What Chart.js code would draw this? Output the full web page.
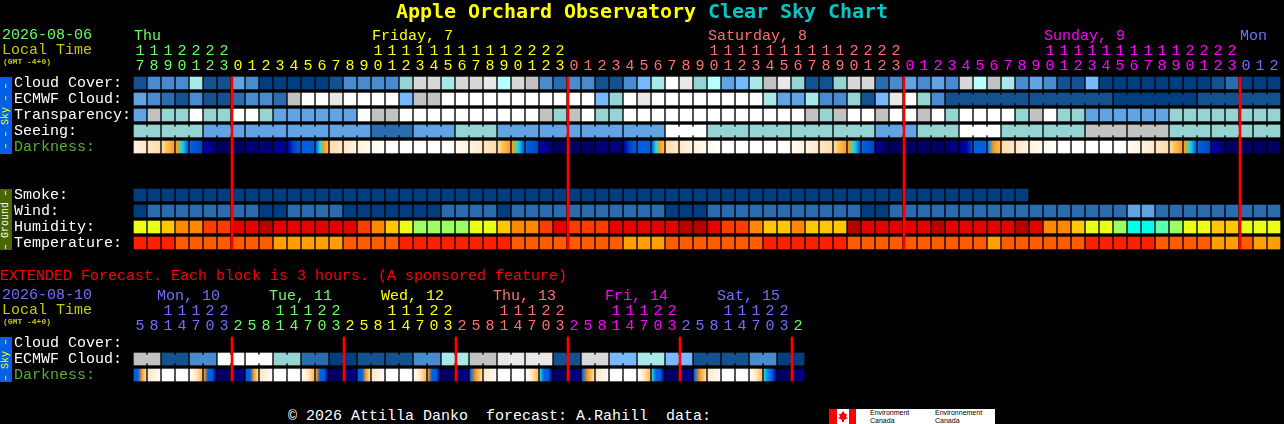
<!DOCTYPE html>
<html>
<head>
<meta charset="utf-8">
<title>Apple Orchard Observatory Clear Sky Chart</title>
<script src="https://cdn.jsdelivr.net/npm/chart.js@4"></script>
<style>
  html, body { margin: 0; padding: 0; background: #000; overflow: hidden; }
  #page { position: relative; width: 1284px; height: 424px; background: #000; }
  #page canvas { position: absolute; left: 0; }
  .txt { position: absolute; white-space: pre; font: 15px/16px "Liberation Mono", monospace; }
  .tiny { font-size: 8px; line-height: 8px; font-weight: bold; color: #c8c800; }
  .side { position: absolute; left: 0; width: 12px; writing-mode: vertical-rl; transform: rotate(180deg);
          text-align: center; font: 10px/12px "Liberation Mono", monospace; white-space: pre; }
  #title { left: 396px; top: -1px; font: bold 20px/24px "DejaVu Sans Mono", monospace; letter-spacing: -0.04px; color: #ffff00; }
  #title span { color: #00c8c8; }
  #logo { position: absolute; left: 829px; top: 409px; width: 166px; height: 15px; background: #fff; overflow: hidden; }
  #logo div { position: absolute; color: #000; font: 7px/7px "Liberation Sans", sans-serif; white-space: pre; }
</style>
</head>
<body>
<div id="page">
  <canvas id="mainChart" width="1284" height="251" style="top:0"></canvas>
  <canvas id="extChart" width="1284" height="99" style="top:284px"></canvas>

  <div class="txt" id="title">Apple Orchard Observatory <span>Clear Sky Chart</span></div>
  <div class="txt" style="left:2px;top:28px;color:#66ff66">2026-08-06</div>
  <div class="txt" style="left:2px;top:43px;color:#c8c800">Local Time</div>
  <div class="txt tiny" style="left:3px;top:58px">(GMT -4+0)</div>

  <div class="side" style="top:77px;height:77px;background:#0060e8;color:#ffff00">– – Sky – –</div>
  <div class="side" style="top:189px;height:61px;background:#4b6500;color:#fff">– Ground –</div>
  <div class="side" style="top:337px;height:45px;background:#0060e8;color:#ffff00">– Sky –</div>

  <div class="txt" style="left:0;top:269px;color:#ff0000">EXTENDED Forecast. Each block is 3 hours. (A sponsored feature)</div>
  <div class="txt" style="left:2px;top:288px;color:#7070ff">2026-08-10</div>
  <div class="txt" style="left:2px;top:303px;color:#c8c800">Local Time</div>
  <div class="txt tiny" style="left:3px;top:318px">(GMT -4+0)</div>

  <div class="txt" style="left:288px;top:409px;color:#fff">© 2026 Attilla Danko  forecast: A.Rahill  data:</div>
  <div id="logo">
    <svg width="27" height="15" style="position:absolute;left:0;top:0">
      <rect x="0" y="0" width="8" height="15" fill="#ff0000"></rect>
      <rect x="20" y="0" width="7" height="15" fill="#ff0000"></rect>
      <polygon points="14,2 16,5 18,5 17,8 19,9 15,11 15,13 13,13 13,11 9,9 11,8 10,5 12,5" fill="#ff0000"></polygon>
    </svg>
    <div style="left:41px;top:0">Environment</div>
    <div style="left:41px;top:8px">Canada</div>
    <div style="left:106px;top:0">Environnement</div>
    <div style="left:106px;top:8px">Canada</div>
  </div>
</div>

<script>
// hours along the top, one column per hour
const hours = [17, 18, 19, 20, 21, 22, 23,
  0, 1, 2, 3, 4, 5, 6, 7, 8, 9, 10, 11, 12, 13, 14, 15, 16, 17, 18, 19, 20, 21, 22, 23,
  0, 1, 2, 3, 4, 5, 6, 7, 8, 9, 10, 11, 12, 13, 14, 15, 16, 17, 18, 19, 20, 21, 22, 23,
  0, 1, 2, 3, 4, 5, 6, 7, 8, 9, 10, 11, 12, 13, 14, 15, 16, 17, 18, 19, 20, 21, 22, 23,
  0, 1, 2];

// levels, looked up in skyScale
const cloudCover = [1, 3, 3, 3, 7, 1, 1,
  4, 3, 0, 0, 0, 0, 0, 1, 3, 3, 3, 3, 6, 10, 10, 7, 10, 10, 11, 8, 10, 9, 3, 2,
  3, 3, 1, 1, 3, 5, 7, 12, 11, 6, 8, 4, 5, 7, 9, 11, 6, 1, 1, 6, 10, 10, 2, 3,
  4, 3, 4, 3, 10, 8, 9, 7, 3, 4, 3, 1, 1, 5, 0, 0, 0, 0, 0, 0, 0, 0, 1, 2,
  0, 0, 0];
const ecmwfCloud = [4, 3, 2, 1, 3, 1, 1,
  2, 3, 3, 2, 9, 12, 12, 11, 12, 12, 12, 12, 5, 9, 9, 12, 12, 12, 12, 12, 12, 12, 12, 12,
  12, 12, 5, 6, 12, 11, 12, 12, 12, 12, 12, 12, 12, 12, 7, 4, 4, 7, 3, 3, 6, 1, 5, 11,
  12, 6, 3, 1, 1, 1, 1, 1, 1, 1, 1, 1, 1, 1, 1, 0, 0, 0, 0, 0, 0, 1, 1, 1,
  1, 1, 1];
const ecmwfSpans = [1, 1, 1, 1, 1, 1, 1,
  1, 1, 1, 1, 1, 1, 1, 1, 1, 1, 1, 1, 1, 1, 1, 1, 1, 1, 1, 1, 1, 1, 1, 1,
  1, 1, 1, 1, 1, 1, 1, 1, 1, 1, 1, 1, 1, 1, 1, 1, 1, 1, 1, 1, 1, 1, 1, 1,
  1, 1, 1, 6, 6, 6, 6];
const transparency = [4, 9, 6, 6, 12, 6, 6,
  12, 12, 6, 4, 4, 4, 4, 4, 4, 12, 9, 9, 12, 12, 12, 12, 12, 12, 12, 12, 12, 12, 9, 6,
  9, 12, 6, 6, 12, 12, 12, 12, 12, 12, 12, 12, 12, 12, 12, 12, 12, 9, 6, 9, 12, 12, 9, 12,
  12, 9, 12, 6, 12, 12, 12, 12, 6, 9, 12, 6, 6, 4, 4, 4, 4, 4, 4, 6, 6, 6, 6, 6,
  6, 6, 6];
const seeing = [6, 6, 6, 6, 6, 4, 4,
  4, 4, 4, 4, 4, 4, 4, 4, 4, 4, 2, 2, 2, 4, 4, 4, 6, 6, 6, 4, 4, 4, 4, 4,
  4, 4, 4, 4, 4, 4, 4, 12, 12, 12, 6, 6, 6, 6, 6, 6, 6, 6, 6, 6, 6, 6, 4, 4,
  4, 6, 6, 6, 12, 12, 12, 6, 6, 6, 6, 6, 6, 9, 9, 9, 9, 9, 9, 6, 6, 6, 6, 6,
  6, 6, 6];
const seeingSpans = [2, 3, 3, 3, 3, 3, 3, 3, 3, 3, 3, 3, 3, 3, 3, 3, 3, 3, 3, 3, 3, 3, 3, 3, 3, 3, 3, 2];
const smoke = [0, 0, 0, 0, 0, 0, 0,
  0, 0, 0, 0, 0, 0, 0, 0, 0, 0, 0, 0, 0, 0, 0, 0, 0, 0, 0, 0, 0, 0, 0, 0,
  0, 0, 0, 0, 0, 0, 0, 0, 0, 0, 0, 0, 0, 0, 0, 0, 0, 0, 0, 0, 0, 0, 0, 0,
  0, 0, 0, 0, 0, 0, 0, 0, 0, null, null, null, null, null, null, null, null, null, null, null, null, null, null, null,
  null, null, null];
const wind = [0, 2, 2, 2, 2, 2, 2,
  2, 2, 0, 0, 2, 2, 2, 2, 0, 0, 0, 0, 0, 0, 0, 2, 2, 2, 2, 0, 2, 2, 2, 2,
  2, 2, 2, 2, 2, 2, 2, 0, 0, 0, 2, 2, 2, 2, 2, 2, 2, 2, 2, 2, 2, 0, 0, 2,
  2, 2, 2, 2, 2, 2, 2, 2, 2, 2, 2, 2, 2, 2, 2, 2, 4, 4, 2, 2, 2, 2, 2, 2,
  2, 2, 2];
// levels, looked up in humidityScale
const humidity = [3, 3, 4, 5, 5, 6, 6,
  7, 7, 8, 7, 7, 7, 7, 7, 7, 6, 5, 4, 3, 2, 2, 2, 2, 3, 3, 4, 5, 5, 6, 7,
  6, 6, 6, 7, 7, 7, 7, 7, 8, 8, 7, 6, 6, 5, 4, 4, 5, 4, 4, 4, 8, 7, 7, 7,
  7, 7, 8, 7, 7, 7, 7, 7, 8, 7, 5, 5, 4, 3, 3, 2, 0, 0, 1, 2, 3, 3, 4, 4,
  3, 3, 3];
// levels, looked up in temperatureScale
const temperature = [0, 0, 0, 1, 1, 1, 1,
  1, 1, 1, 2, 2, 2, 2, 2, 1, 1, 1, 1, 0, 0, 0, 0, 0, 0, 0, 0, 1, 1, 1, 1,
  1, 1, 1, 1, 2, 2, 2, 1, 1, 1, 1, 1, 1, 1, 0, 0, 0, 0, 0, 0, 1, 1, 1, 1,
  1, 1, 1, 1, 1, 1, 2, 1, 1, 1, 1, 1, 1, 0, 0, 0, 0, 0, 1, 1, 1, 1, 2, 2,
  1, 2, 2];
// darkness changes inside a block, so each block lists its levels left to right (darknessScale)
const darkness = [[2, 3], [3, 4], [4, 5, 6], [6, 7, 9], [9, 10], [11, 13], [14],
  [14], [13], [13], [12], [11, 10, 9], [9], [9, 7, 6, 5], [4, 3], [3, 2], [2, 1], [1, 0],
  [0], [0], [0], [0], [0], [1, 2], [2, 3], [3, 4], [4, 5, 6], [6, 7, 9], [9, 10], [11, 13], [14],
  [14], [14], [13], [13], [11, 10, 9], [9], [9, 7, 6, 5], [4, 3], [3, 2], [2, 1], [1, 0],
  [0], [0], [0], [0], [0], [1, 2], [2, 3], [3, 4], [4, 5, 6], [6, 7, 9], [9, 10], [12, 14], [14],
  [14], [14], [14], [13], [12, 11, 10], [9], [8, 6, 5], [4, 3], [3, 2], [2, 1], [1, 0],
  [0], [0], [0], [0], [0], [1, 2], [2, 3], [3, 4], [4, 5, 6], [6, 7, 9], [9, 10], [11, 13], [14],
  [14], [14], [14]];

const rowLabels = ["Cloud Cover:", "ECMWF Cloud:", "Transparency:", "Seeing:", "Darkness:", "", "", "Smoke:", "Wind:", "Humidity:", "Temperature:"];
const dayNames = ["Thu", "Friday, 7", "Saturday, 8", "Sunday, 9", "Mon"];

// extended forecast, one column per 3 hours
const extHours = [5, 8, 11, 14, 17, 20, 23, 2, 5, 8, 11, 14, 17, 20, 23, 2, 5, 8, 11, 14, 17, 20, 23, 2,
  5, 8, 11, 14, 17, 20, 23, 2, 5, 8, 11, 14, 17, 20, 23, 2, 5, 8, 11, 14, 17, 20, 23, 2];
const extEcmwf = [9, 9, 1, 1, 3, 3, 12, 12, 12, 12, 6, 6, 2, 2, 0, 0, 1, 1, 1, 1, 3, 3, 7, 7,
  9, 9, 11, 11, 11, 11, 1, 1, 10, 10, 5, 5, 7, 7, 5, 5, 1, 1, 1, 1, 3, 3, 0, 0];
const extSpans = [2, 2, 2, 2, 2, 2, 2, 2, 2, 2, 2, 2, 2, 2, 2, 2, 2, 2, 2, 2, 2, 2, 2, 2];
const extDarkness = [[9, 9, 6, 4], [3, 1], [0], [0], [1, 3, 5], [6, 9, 9, 11], [14], [14, 12],
  [9, 9, 6, 4], [3, 1], [0], [0], [1, 3, 5], [6, 9, 9, 11], [14], [14, 12],
  [9, 9, 6, 4], [3, 1], [0], [0], [1, 3, 5], [6, 9, 9, 11], [14], [14, 12],
  [9, 6, 4], [3, 1], [0], [0], [1, 3, 5], [7, 9, 9, 11], [14], [14, 12],
  [9, 6, 4], [3, 1], [0], [0], [1, 3, 5], [7, 9, 9, 11], [14], [14, 12],
  [9, 6, 4], [3, 1], [0], [0], [1, 3, 5], [7, 8, 9, 11], [14], [14, 12]];
const extRowLabels = ["Cloud Cover:", "ECMWF Cloud:", "Darkness:"];
const extDayNames = ["Mon, 10", "Tue, 11", "Wed, 12", "Thu, 13", "Fri, 14", "Sat, 15"];

// colours
const skyScale = ["#003f7f", "#13528f", "#2b6cae", "#4a8bd0", "#62a3e3", "#78b8ff", "#96d4d4",
  "#a8e8e8", "#b8ffff", "#c2c2c2", "#d8d8d8", "#e8e8e8", "#ffffff"];
const humidityScale = ["#00ffe8", "#5affb0", "#9cff66", "#eaff14", "#ffc800", "#ff8800", "#ff3c00", "#e60000", "#b80000"];
const temperatureScale = ["#ff2000", "#ff5c00", "#ffa000"];
const darknessScale = ["#ffffff", "#fffaf2", "#fff3e2", "#ffe8c8", "#ffdcaa", "#ffb850", "#ff9c20", "#20d8e8",
  "#0080f0", "#0060e0", "#0048c0", "#0000a8", "#000090", "#000078", "#000060"];
const dayColors = ["#66ff66", "#ffff00", "#ff7070", "#ff00ff", "#7070ff"];
const extDayColors = ["#7070ff", "#66ff66", "#ffff00", "#ff7070", "#ff00ff", "#7070ff", "#66ff66"];
const LABEL_GREEN = "#55b030";
const LINE_RED = "#ff0000";

const FONT = "'Liberation Mono', monospace";

// which day each column belongs to: a new day starts when the hour wraps round
function dayIndexes(hrs) {
  let day = 0;
  return hrs.map((h, i) => {
    if (i > 0 && h < hrs[i - 1]) day++;
    return day;
  });
}

function blockDataset(row, values, scale) {
  const data = [];
  const colors = [];
  values.forEach((v, i) => {
    if (v === null) return;
    data.push({ x: i, y: [row - 0.375, row + 0.375] });
    colors.push(scale[v]);
  });
  return { data, backgroundColor: colors, barThickness: 12, grouped: false };
}

// thin bridge between the blocks of one forecast period
function joinDataset(row, values, spans, scale) {
  const data = [];
  const colors = [];
  let start = 0;
  spans.forEach((span) => {
    for (let i = start; i < start + span - 1; i++) {
      data.push({ x: i + 0.5, y: [row - 0.25, row + 0.25] });
      colors.push(scale[values[i]]);
    }
    start += span;
  });
  return { data, backgroundColor: colors, barThickness: 2, grouped: false };
}

function darknessDataset(row, values) {
  return {
    data: values.map((v, i) => ({ x: i, y: [row - 0.375, row + 0.375] })),
    backgroundColor: (c) => {
      const stops = values[c.dataIndex];
      if (!stops) return darknessScale[0];
      const px = c.chart.scales.x.getPixelForValue(c.dataIndex);
      // the scale has no size yet on the first pass
      if (stops.length === 1 || !Number.isFinite(px)) return darknessScale[stops[0]];
      const g = c.chart.ctx.createLinearGradient(px - 6, 0, px + 6, 0);
      stops.forEach((s, k) => g.addColorStop(k / (stops.length - 1), darknessScale[s]));
      return g;
    },
    barThickness: 12,
    grouped: false,
  };
}

function midnightDataset(hrs, topRow, bottomRow) {
  const days = dayIndexes(hrs);
  const data = [];
  days.forEach((d, i) => {
    if (i > 0 && d !== days[i - 1]) {
      data.push({ x: i - 0.5 + 1 / 14, y: [topRow - 0.375, bottomRow + 0.375] });
    }
  });
  return { data, backgroundColor: LINE_RED, barThickness: 2, grouped: false };
}

// day names above the hour digits
const dayNamesPlugin = {
  id: "dayNames",
  afterDraw(chart, args, opts) {
    const ctx = chart.ctx;
    ctx.save();
    ctx.font = "15px " + FONT;
    ctx.textBaseline = "alphabetic";
    ctx.textAlign = "left";
    opts.names.forEach((name, i) => {
      ctx.fillStyle = opts.colors[i];
      ctx.fillText(name, chart.scales.x.getPixelForValue(opts.columns[i]), opts.baseline);
    });
    ctx.restore();
  },
};

// stop the layout from shrinking the plot to make room for the edge labels
function noEdgePadding(scale) {
  scale.paddingTop = 0;
  scale.paddingBottom = 0;
  scale.paddingLeft = 0;
  scale.paddingRight = 0;
}

function makeChart(id, hrs, labels, colors, datasets, layout) {
  const days = dayIndexes(hrs);
  return new Chart(document.getElementById(id), {
    type: "bar",
    data: { datasets },
    options: {
      responsive: false,
      animation: false,
      devicePixelRatio: 1,
      events: [],
      layout: { padding: { left: 14, right: layout.right, top: 0, bottom: 0 } },
      plugins: {
        legend: { display: false },
        tooltip: { enabled: false },
        dayNames: layout.dayNames,
      },
      scales: {
        x: {
          type: "linear",
          position: "top",
          min: -0.5,
          max: hrs.length - 0.5,
          offset: false,
          border: { display: false },
          grid: { display: false, drawTicks: false },
          afterBuildTicks: (scale) => {
            scale.ticks = hrs.map((h, i) => ({ value: i }));
          },
          afterFit: (scale) => {
            scale.height = layout.axisHeight;
            noEdgePadding(scale);
          },
          ticks: {
            autoSkip: false,
            maxRotation: 0,
            minRotation: 0,
            padding: 1,
            font: { family: FONT, size: 15, lineHeight: "15px" },
            color: (c) => colors[days[c.index]],
            callback: (value) => {
              const h = hrs[value];
              return h < 10 ? ["", String(h)] : [String(h)[0], String(h)[1]];
            },
          },
        },
        y: {
          type: "linear",
          reverse: true,
          min: -0.5,
          max: labels.length - 0.5,
          border: { display: false },
          grid: { display: false, drawTicks: false },
          afterBuildTicks: (scale) => {
            scale.ticks = labels.map((l, i) => ({ value: i }));
          },
          afterFit: (scale) => {
            scale.width = 119;
            noEdgePadding(scale);
          },
          ticks: {
            autoSkip: false,
            crossAlign: "far",
            padding: 0,
            font: { family: FONT, size: 15 },
            color: (c) => (labels[c.index] === "Darkness:" ? LABEL_GREEN : "#ffffff"),
            callback: (value) => labels[value],
          },
        },
      },
    },
    plugins: [dayNamesPlugin],
  });
}

makeChart("mainChart", hours, rowLabels, dayColors, [
  midnightDataset(hours, 0, 10),
  blockDataset(0, cloudCover, skyScale),
  blockDataset(1, ecmwfCloud, skyScale),
  joinDataset(1, ecmwfCloud, ecmwfSpans, skyScale),
  blockDataset(2, transparency, skyScale),
  blockDataset(3, seeing, skyScale),
  joinDataset(3, seeing, seeingSpans, skyScale),
  darknessDataset(4, darkness),
  blockDataset(7, smoke, skyScale),
  blockDataset(8, wind, skyScale),
  blockDataset(9, humidity, humidityScale),
  blockDataset(10, temperature, temperatureScale),
], {
  right: 3,
  axisHeight: 75,
  dayNames: { names: dayNames, colors: dayColors, columns: [-0.43, 16.57, 40.57, 64.57, 78.57], baseline: 40 },
});

makeChart("extChart", extHours, extRowLabels, extDayColors, [
  midnightDataset(extHours, 0, 2),
  blockDataset(1, extEcmwf, skyScale),
  joinDataset(1, extEcmwf, extSpans, skyScale),
  darknessDataset(2, extDarkness),
], {
  right: 479,
  axisHeight: 51,
  dayNames: { names: extDayNames, colors: extDayColors, columns: [1.21, 9.21, 17.21, 25.21, 33.21, 41.21], baseline: 16 },
});
</script>
</body>
</html>
